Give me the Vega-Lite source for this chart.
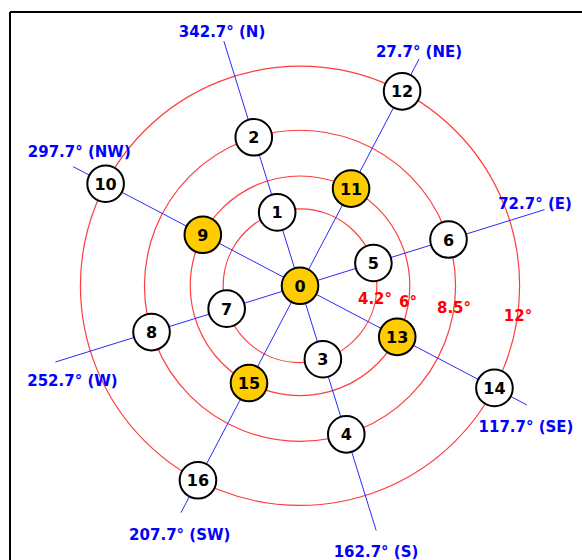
{
  "$schema": "https://vega.github.io/schema/vega-lite/v6.json",
  "width": 572,
  "height": 548,
  "autosize": {"type": "none"},
  "padding": {"left": 10, "top": 12, "right": 0, "bottom": 0},
  "background": "white",
  "config": {"view": {"stroke": null}},
  "datasets": {
    "rings": [{"r": 4.2, "cx": 0, "cy": 0}, {"r": 6, "cx": 0, "cy": 0}, {"r": 8.5, "cx": 0, "cy": 0}, {"r": 12, "cx": 0, "cy": 0}],
    "rays": [
      {"dir": "N", "ox": 0, "oy": 0, "ex": -4.163, "ey": 13.367},
      {"dir": "NE", "ox": 0, "oy": 0, "ex": 6.508, "ey": 12.395},
      {"dir": "E", "ox": 0, "oy": 0, "ex": 13.367, "ey": 4.163},
      {"dir": "SE", "ox": 0, "oy": 0, "ex": 12.395, "ey": -6.508},
      {"dir": "S", "ox": 0, "oy": 0, "ex": 4.163, "ey": -13.367},
      {"dir": "SW", "ox": 0, "oy": 0, "ex": -6.508, "ey": -12.395},
      {"dir": "W", "ox": 0, "oy": 0, "ex": -13.367, "ey": -4.163},
      {"dir": "NW", "ox": 0, "oy": 0, "ex": -12.395, "ey": 6.508}
    ],
    "nodes": [
      {"id": "0", "x": 0, "y": 0, "kind": "gold"},
      {"id": "1", "x": -1.249, "y": 4.01, "kind": "white"},
      {"id": "2", "x": -2.528, "y": 8.115, "kind": "white"},
      {"id": "3", "x": 1.249, "y": -4.01, "kind": "white"},
      {"id": "4", "x": 2.528, "y": -8.115, "kind": "white"},
      {"id": "5", "x": 4.01, "y": 1.249, "kind": "white"},
      {"id": "6", "x": 8.115, "y": 2.528, "kind": "white"},
      {"id": "7", "x": -4.01, "y": -1.249, "kind": "white"},
      {"id": "8", "x": -8.115, "y": -2.528, "kind": "white"},
      {"id": "9", "x": -5.312, "y": 2.789, "kind": "gold"},
      {"id": "10", "x": -10.625, "y": 5.578, "kind": "white"},
      {"id": "11", "x": 2.789, "y": 5.312, "kind": "gold"},
      {"id": "12", "x": 5.578, "y": 10.625, "kind": "white"},
      {"id": "13", "x": 5.312, "y": -2.789, "kind": "gold"},
      {"id": "14", "x": 10.625, "y": -5.578, "kind": "white"},
      {"id": "15", "x": -2.789, "y": -5.312, "kind": "gold"},
      {"id": "16", "x": -5.578, "y": -10.625, "kind": "white"}
    ],
    "dirLabels": [
      {"label": "342.7° (N)", "x": -4.262, "y": 13.612},
      {"label": "27.7° (NE)", "x": 6.503, "y": 12.519},
      {"label": "72.7° (E)", "x": 12.842, "y": 4.197},
      {"label": "117.7° (SE)", "x": 12.35, "y": -7.97},
      {"label": "162.7° (S)", "x": 4.153, "y": -14.836},
      {"label": "207.7° (SW)", "x": -6.574, "y": -13.891},
      {"label": "252.7° (W)", "x": -12.437, "y": -5.459},
      {"label": "297.7° (NW)", "x": -12.066, "y": 7.038}
    ],
    "ringLabels": [
      {"label": "4.2°", "x": 4.098, "y": -1.011},
      {"label": "6°", "x": 5.902, "y": -1.175},
      {"label": "8.5°", "x": 8.415, "y": -1.47},
      {"label": "12°", "x": 11.913, "y": -1.907}
    ]
  },
  "layer": [
    {
      "data": {"values": [{"edge": "top", "v": 14.96}]},
      "mark": {"type": "rule", "color": "black", "strokeWidth": 2},
      "encoding": {
        "y": {"field": "v", "type": "quantitative", "scale": {"domain": [-14.98, 14.96], "nice": false, "zero": false}, "axis": null}
      }
    },
    {
      "data": {"values": [{"edge": "left", "v": -15.85}]},
      "mark": {"type": "rule", "color": "black", "strokeWidth": 2},
      "encoding": {
        "x": {"field": "v", "type": "quantitative", "scale": {"domain": [-15.85, 15.41], "nice": false, "zero": false}, "axis": null}
      }
    },
    {
      "data": {"name": "rings"},
      "mark": {"type": "point", "shape": "circle", "filled": false, "stroke": "#ff3c3c", "strokeWidth": 1.2, "opacity": 1},
      "encoding": {
        "x": {"field": "cx", "type": "quantitative", "scale": {"domain": [-15.85, 15.41], "nice": false, "zero": false}, "axis": null},
        "y": {"field": "cy", "type": "quantitative", "scale": {"domain": [-14.98, 14.96], "nice": false, "zero": false}, "axis": null},
        "size": {"field": "r", "type": "quantitative", "scale": {"type": "pow", "exponent": 2, "domain": [0, 10], "range": [0, 133956], "zero": true}, "legend": null}
      }
    },
    {
      "data": {"name": "rays"},
      "mark": {"type": "rule", "color": "#2a2aff", "strokeWidth": 1},
      "encoding": {
        "x": {"field": "ox", "type": "quantitative", "scale": {"domain": [-15.85, 15.41], "nice": false, "zero": false}, "axis": null},
        "y": {"field": "oy", "type": "quantitative", "scale": {"domain": [-14.98, 14.96], "nice": false, "zero": false}, "axis": null},
        "x2": {"field": "ex"},
        "y2": {"field": "ey"}
      }
    },
    {
      "data": {"name": "nodes"},
      "mark": {"type": "point", "shape": "circle", "filled": true, "size": 1340, "stroke": "black", "strokeWidth": 2, "opacity": 1},
      "encoding": {
        "x": {"field": "x", "type": "quantitative", "scale": {"domain": [-15.85, 15.41], "nice": false, "zero": false}, "axis": null},
        "y": {"field": "y", "type": "quantitative", "scale": {"domain": [-14.98, 14.96], "nice": false, "zero": false}, "axis": null},
        "fill": {"field": "kind", "type": "nominal", "scale": {"domain": ["gold", "white"], "range": ["#ffcc00", "#ffffff"]}, "legend": null}
      }
    },
    {
      "data": {"name": "nodes"},
      "mark": {"type": "text", "font": "DejaVu Sans", "fontWeight": "bold", "fontSize": 16, "color": "black", "align": "center", "baseline": "middle", "dy": 1},
      "encoding": {
        "x": {"field": "x", "type": "quantitative"},
        "y": {"field": "y", "type": "quantitative"},
        "text": {"field": "id"}
      }
    },
    {
      "data": {"name": "dirLabels"},
      "mark": {"type": "text", "font": "DejaVu Sans", "fontWeight": "bold", "fontSize": 15, "color": "#0000ff", "align": "center", "baseline": "alphabetic"},
      "encoding": {
        "x": {"field": "x", "type": "quantitative"},
        "y": {"field": "y", "type": "quantitative"},
        "text": {"field": "label"}
      }
    },
    {
      "data": {"name": "ringLabels"},
      "mark": {"type": "text", "font": "DejaVu Sans", "fontWeight": "bold", "fontSize": 15, "color": "#ff0000", "align": "center", "baseline": "alphabetic"},
      "encoding": {
        "x": {"field": "x", "type": "quantitative"},
        "y": {"field": "y", "type": "quantitative"},
        "text": {"field": "label"}
      }
    }
  ]
}
